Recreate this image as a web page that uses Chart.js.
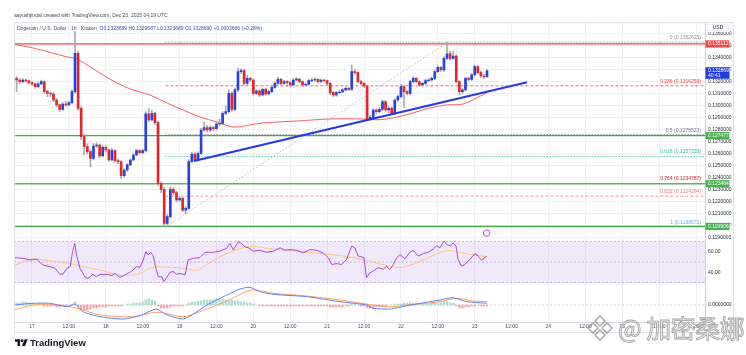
<!DOCTYPE html>
<html><head><meta charset="utf-8">
<script src="https://cdn.jsdelivr.net/npm/chart.js@4.4.1/dist/chart.umd.min.js"></script>
<style>
html,body{margin:0;padding:0;background:#fff;}
#wrap{position:relative;width:746px;height:355px;overflow:hidden;font-family:"Liberation Sans",Arial,sans-serif;background:#fff;}
canvas{position:absolute;left:0;}
.abs{position:absolute;white-space:nowrap;}
</style></head>
<body><div id="wrap">
<canvas id="main" width="746" height="239" style="top:0px"></canvas>
<canvas id="rsi" width="746" height="46" style="top:239px"></canvas>
<canvas id="macd" width="746" height="70" style="top:285px"></canvas>
<div class="abs" style="left:14px;top:22px;width:720px;height:311px;border:1px solid #dfe2e8;box-sizing:border-box;"></div>
<div class="abs" style="left:14px;top:12px;font-size:5px;color:#4a4a4a;">aayushjindal created with TradingView.com, Dec 23, 2025 04:19 UTC</div>
<div class="abs" style="left:17px;top:25px;font-size:5px;color:#4a4e5a;">Dogecoin / U.S. Dollar · 1h · Kraken&nbsp; <span style="color:#3b4ab8">O0.1323689 H0.1329687 L0.1323689 C0.1328690 +0.0003666 (+0.28%)</span></div>
<div class="abs" style="left:15px;top:337px;display:flex;align-items:center;">
<svg width="13" height="9" viewBox="0 0 36 24"><path d="M14 22H7V10H0V3h14v19z" fill="#131722"/><circle cx="19.5" cy="7" r="4" fill="#131722"/><path d="M27 3h8.5L27.5 22H19z" fill="#131722"/></svg>
<span style="font-weight:bold;font-size:9.5px;color:#131722;margin-left:2px;">TradingView</span></div>
<div class="abs" style="left:585px;top:313px;">
<svg width="30" height="30" viewBox="0 0 30 30"><g fill="none" stroke="rgba(150,150,150,0.75)" stroke-width="1.6"><path d="M15 3 L20 8 L15 13 L10 8 Z"/><path d="M15 17 L20 22 L15 27 L10 22 Z"/><path d="M3 15 L8 10 L13 15 L8 20 Z"/><path d="M17 15 L22 10 L27 15 L22 20 Z"/></g></svg></div>
<div class="abs" style="left:618px;top:309px;font-family:'Noto Sans CJK SC';font-size:25px;color:rgba(238,238,238,0.85);-webkit-text-stroke:0.8px rgba(140,140,140,0.8);letter-spacing:-0.5px;">@ 加密桑娜</div>
</div>
<script>
// ---- data (hours counted from 17 Dec 2025 00:00 UTC; first candle = 16 Dec 19:00) ----
const startHour = -5;
const opens = [
0.13225,0.13211,0.13197,0.13211,0.13203,0.13189,0.13178,0.13155,0.13178,0.13197,
0.13114,0.13100,0.13094,0.13044,0.13003,0.12966,0.13011,0.13003,0.13022,0.13114,
0.13433,0.12975,0.12739,0.12655,0.12614,0.12558,0.12661,0.12669,0.12578,0.12650,
0.12628,0.12544,0.12622,0.12539,0.12530,0.12414,0.12461,0.12503,0.12544,0.12586,
0.12622,0.12605,0.12622,0.12928,0.12878,0.12933,0.12855,0.12350,0.12300,0.12016,
0.12072,0.12300,0.12272,0.12211,0.12225,0.12127,0.12141,0.12530,0.12594,0.12544,
0.12600,0.12794,0.12814,0.12794,0.12814,0.12805,0.12844,0.12850,0.12933,0.12947,
0.13100,0.12966,0.13128,0.13280,0.13289,0.13183,0.13225,0.13211,0.13100,0.13119,
0.13086,0.13133,0.13094,0.13114,0.13150,0.13183,0.13216,0.13183,0.13197,0.13189,
0.13169,0.13211,0.13219,0.13197,0.13169,0.13175,0.13205,0.13211,0.13216,0.13197,
0.13211,0.13205,0.13183,0.13105,0.13086,0.13105,0.13111,0.13128,0.13141,0.13133,
0.13280,0.13272,0.13197,0.13183,0.13161,0.12883,0.12900,0.12961,0.12947,0.12966,
0.13030,0.12961,0.12975,0.12933,0.13044,0.13072,0.13155,0.13114,0.13100,0.13197,
0.13225,0.13197,0.13169,0.13183,0.13205,0.13211,0.13225,0.13280,0.13316,0.13294,
0.13391,0.13428,0.13391,0.13411,0.13197,0.13114,0.13128,0.13225,0.13216,0.13253,
0.13322,0.13272,0.13244,0.1323689];
const highs = [
0.13239,0.13225,0.13222,0.13219,0.13211,0.13200,0.13186,0.13189,0.13211,0.13203,
0.13125,0.13111,0.13105,0.13055,0.13011,0.13022,0.13030,0.13036,0.13128,0.13614,
0.13450,0.12989,0.12760,0.12680,0.12628,0.12683,0.12690,0.12678,0.12669,0.12664,
0.12636,0.12644,0.12628,0.12553,0.12539,0.12472,0.12514,0.12556,0.12597,0.12633,
0.12630,0.12633,0.12947,0.12975,0.12961,0.12944,0.12864,0.12364,0.12314,0.12089,
0.12322,0.12314,0.12283,0.12239,0.12236,0.12155,0.12547,0.12611,0.12606,0.12614,
0.12808,0.12861,0.12833,0.12828,0.12825,0.12858,0.12883,0.12947,0.12994,0.13128,
0.13111,0.13144,0.13311,0.13303,0.13297,0.13250,0.13236,0.13219,0.13133,0.13128,
0.13144,0.13141,0.13125,0.13161,0.13197,0.13236,0.13225,0.13208,0.13205,0.13197,
0.13222,0.13230,0.13225,0.13203,0.13186,0.13216,0.13222,0.13228,0.13222,0.13219,
0.13216,0.13211,0.13189,0.13114,0.13116,0.13122,0.13139,0.13153,0.13150,0.13336,
0.13297,0.13280,0.13208,0.13189,0.13169,0.12914,0.12972,0.12972,0.12980,0.13044,
0.13039,0.12989,0.12986,0.13055,0.13086,0.13175,0.13164,0.13125,0.13208,0.13239,
0.13233,0.13203,0.13194,0.13216,0.13222,0.13236,0.13294,0.13328,0.13322,0.13405,
0.13526,0.13450,0.13450,0.13422,0.13205,0.13139,0.13236,0.13233,0.13264,0.13336,
0.13330,0.13283,0.13258,0.1329687];
const lows = [
0.13114,0.13183,0.13189,0.13192,0.13178,0.13164,0.13141,0.13150,0.13169,0.13100,
0.13072,0.13072,0.13030,0.12989,0.12950,0.12958,0.12992,0.12994,0.13011,0.13100,
0.12958,0.12711,0.12586,0.12594,0.12489,0.12544,0.12644,0.12564,0.12569,0.12611,
0.12530,0.12536,0.12525,0.12514,0.12391,0.12403,0.12450,0.12494,0.12536,0.12578,
0.12594,0.12597,0.12611,0.12864,0.12869,0.12839,0.12333,0.12272,0.11986,0.12003,
0.12061,0.12255,0.12194,0.12197,0.12111,0.12094,0.12130,0.12519,0.12530,0.12536,
0.12589,0.12783,0.12778,0.12783,0.12789,0.12794,0.12833,0.12839,0.12922,0.12936,
0.12950,0.12955,0.13114,0.13264,0.13169,0.13172,0.13197,0.13086,0.13089,0.13072,
0.13078,0.13083,0.13086,0.13103,0.13141,0.13175,0.13169,0.13175,0.13158,0.13155,
0.13161,0.13203,0.13189,0.13158,0.13161,0.13169,0.13197,0.13203,0.13186,0.13189,
0.13194,0.13172,0.13089,0.13072,0.13075,0.13097,0.13103,0.13119,0.13122,0.13125,
0.13258,0.13186,0.13169,0.13147,0.12872,0.12872,0.12889,0.12933,0.12936,0.12955,
0.12950,0.12939,0.12922,0.12922,0.13033,0.13061,0.12980,0.13086,0.13089,0.13186,
0.13186,0.13158,0.13161,0.13175,0.13197,0.13203,0.13214,0.13269,0.13283,0.13283,
0.13380,0.13378,0.13383,0.13186,0.13086,0.13094,0.13117,0.13203,0.13208,0.13244,
0.13261,0.13233,0.13225,0.1323689];
const closes = [
0.13211,0.13197,0.13211,0.13203,0.13189,0.13178,0.13155,0.13178,0.13197,0.13114,
0.13100,0.13094,0.13044,0.13003,0.12966,0.13011,0.13003,0.13022,0.13114,0.13433,
0.12975,0.12739,0.12655,0.12614,0.12558,0.12661,0.12669,0.12578,0.12650,0.12628,
0.12544,0.12622,0.12539,0.12530,0.12414,0.12461,0.12503,0.12544,0.12586,0.12622,
0.12605,0.12622,0.12928,0.12878,0.12933,0.12855,0.12350,0.12300,0.12016,0.12072,
0.12300,0.12272,0.12211,0.12225,0.12127,0.12141,0.12530,0.12594,0.12544,0.12600,
0.12794,0.12814,0.12794,0.12814,0.12805,0.12844,0.12850,0.12933,0.12947,0.13100,
0.12966,0.13128,0.13280,0.13289,0.13183,0.13225,0.13211,0.13100,0.13119,0.13086,
0.13133,0.13094,0.13114,0.13150,0.13183,0.13216,0.13183,0.13197,0.13189,0.13169,
0.13211,0.13219,0.13197,0.13169,0.13175,0.13205,0.13211,0.13216,0.13197,0.13211,
0.13205,0.13183,0.13105,0.13086,0.13105,0.13111,0.13128,0.13141,0.13133,0.13280,
0.13272,0.13197,0.13183,0.13161,0.12883,0.12900,0.12961,0.12947,0.12966,0.13030,
0.12961,0.12975,0.12933,0.13044,0.13072,0.13155,0.13114,0.13100,0.13197,0.13225,
0.13197,0.13169,0.13183,0.13205,0.13211,0.13225,0.13280,0.13316,0.13294,0.13391,
0.13428,0.13391,0.13411,0.13197,0.13114,0.13128,0.13225,0.13216,0.13253,0.13322,
0.13272,0.13244,0.1323689,0.1328690];

const maHours  = [-5.85,0.3,11.4,14.6,22.1,27.6,32.8,38.4,43.9,49.1,54.6,60.2,65.4,70.9,75.1,86.2,96.9,107.6,113.2,118.7,123.9,129.4,135.0,140.2,146.8,148];
const maValues = [0.13508,0.13478,0.13403,0.13386,0.13269,0.13186,0.13128,0.13086,0.13019,0.12961,0.12903,0.12861,0.12819,0.12836,0.12853,0.12869,0.12886,0.12886,0.12880,0.12903,0.12936,0.12978,0.13003,0.13011,0.13090,0.13105];

const levelPrices = [0.1351127, 0.1274778, 0.1234641, 0.1199064];
const levelColors = ['#f04848', '#43a847', '#5cb860', '#43a847'];

const fibRatios = [0, 0.236, 0.5, 0.618, 0.764, 0.832, 1];
const fibPrices = [0.1352625, 0.1316259, 0.1275523, 0.1257335, 0.1234787, 0.1224294, 0.1198571];
const fibColors = ['#8e929b', '#f0474f', '#787b86', '#35c2a2', '#c62828', '#f07a80', '#6ab0f0'];
const fibStartHour = 43.4;
const fibSwingHours = [43.4, 135.3];
const fibSwingPrices = [0.1198571, 0.1352625];

const trendHours = [52.7, 161];
const trendPrices = [0.12536, 0.13192];

const priceTicks = [0.119,0.120,0.121,0.122,0.123,0.124,0.125,0.126,0.127,0.128,0.129,0.130,0.131,0.132,0.133,0.134,0.135,0.136];
const xTickHours  = [0,12,24,36,48,60,72,84,96,108,120,132,144,156,168,180,192,204,216];
const xTickLabels = ['17','12:00','18','12:00','19','12:00','20','12:00','21','12:00','22','12:00','23','12:00','24','12:00','25','12:00','26'];

const rsiHours = [-5.85,-2.9,-0.65,1.6,3.6,5.9,7.5,9.1,10.1,11.4,12.4,13.2,13.9,14.5,15.6,17.2,18.2,19.8,21.0,22.1,24.4,26.0,27.0,28.6,30.2,32.4,34.0,35.1,36.2,37.0,37.8,38.6,39.4,40.3,41.1,42.2,42.9,43.8,44.9,45.9,47.1,48.1,49.8,50.8,52.5,54.6,56.3,59.0,61.1,63.3,64.4,65.5,67.1,68.2,69.3,70.3,72.0,74.1,76.3,78.5,80.7,82.3,83.9,86.1,88.2,90.4,92.6,94.7,96.4,97.5,99.1,100.7,102.3,104.0,105.0,106.1,107.2,108.0,108.8,109.9,111.0,112.6,114.2,115.3,116.4,117.5,118.6,119.7,121.3,122.9,124.0,125.6,127.3,128.9,130.5,131.6,132.7,134.0,134.9,136.2,137.0,137.9,138.6,139.7,140.8,142.4,144.1,145.1,146.2,147.9];
const rsiValues = [54.2,53.6,52,52.6,47,45.5,43.9,38,38.5,44,45.5,60,68,56.8,43.9,35.7,34,38,35.7,38,38,37,39,35,37.5,41,45.5,44.8,52,60,56.8,59.4,56.2,44,35.7,35.7,31,35,40,40.7,38,39,37.5,52,53.6,54.2,59.4,59.4,60.6,63.2,68,61.6,69.6,68,64.5,64,60.4,61.4,59.4,60.4,63.8,61.4,62,61.4,58.8,62,61.4,58.8,54,47.5,48.5,47.5,52.4,65.4,63.8,55.7,55,54.2,34.7,39.5,41.2,44.5,42.8,46,42.8,47.5,54,57.2,53,59.4,61.4,55.7,58.2,59.4,62.6,65.8,63.8,70.3,67,65.4,68.6,65.4,52.4,46,47.5,52.4,58.2,55.7,51.8,55.7];
const rsiMaHours = [-5.85,0.3,3.6,11.4,16.6,22.1,27.6,30.9,35.1,39.3,43.9,49.1,53.7,56.9,61.1,65.4,70.9,78.4,89.4,100.2,105.7,110.9,118.7,122.0,127.2,135.0,139.2,148.0];
const rsiMaValues = [46.4,53,52,49,45.5,42.2,38,36.7,39,44.8,45,44,42.2,47.7,55,60.6,64.8,62.6,59.4,56.2,53.6,50,44.8,46,52,61,59,55];
const rsiBands = [70, 50, 30];

const macdHours = [-5.85,0.33,5.85,11.4,14.0,16.6,22.1,29.6,35.1,40.5,43.9,49.1,52.0,56.9,63.4,67.6,70.9,74.1,78.4,89.4,100.2,108.9,110.9,116.4,122.0,132.7,136.9,141.5,148.0];
const macdValues = [0,0.000034,0.000034,-0.000034,0.00002,-0.000134,-0.000234,-0.00028,-0.000214,-0.00008,-0.0002,-0.00028,-0.0002,0,0.0002,0.00032,0.000354,0.000266,0.000214,0.000166,0.000066,0,-0.000066,-0.00008,-0.000014,0.0001,0.000146,0.000066,0.000034];
const signalHours = [-5.85,0.33,5.85,11.4,16.6,22.1,32.8,40.7,49.1,54.6,63.4,70.2,73.2,78.4,89.4,100.2,110.9,117.1,122.0,132.7,138.2,143.4,148.0];
const signalValues = [-0.0001,0,0.000014,-0.00002,-0.0001,-0.0002,-0.000234,-0.000146,-0.000234,-0.000134,0.00008,0.00028,0.0003,0.000234,0.00018,0.0001,0,-0.000034,0,0.000066,0.000134,0.00008,0.000066];
const histValues = [
0.00004,0.00004,0.00006,0.00006,0.00004,0.00004,0.00002,0.00002,0,-0.00002,
-0.00002,-0.00002,-0.00002,-0.00004,-0.00004,-0.00002,-0.00002,0,0.00002,0.00006,
-0.00004,-0.00008,-0.0001,-0.0001,-0.00008,-0.00006,-0.00006,-0.00004,-0.00004,-0.00004,
-0.00002,-0.00002,-0.00002,-0.00002,-0.00002,0,0.00002,0.00002,0.00004,0.00004,
0.00004,0.00006,0.0001,0.00012,0.0001,0.00008,-0.00002,-0.00006,-0.00006,-0.00006,
-0.00004,-0.00002,-0.00002,-0.00002,-0.00002,0,0.00004,0.00006,0.00006,0.00008,
0.00008,0.0001,0.0001,0.0001,0.0001,0.00012,0.00012,0.00012,0.0001,0.0001,
0.0001,0.00008,0.00008,0.00006,0.00006,0.00004,0.00004,0.00002,0,-0.00002,
-0.00002,-0.00002,-0.00002,-0.00002,-0.00002,-0.00002,-0.00002,-0.00002,-0.00002,-0.00002,
-0.00002,-0.00002,-0.00002,-0.00002,-0.00002,-0.00002,-0.00002,-0.00002,-0.00002,-0.00002,
-0.00002,-0.00002,-0.00004,-0.00004,-0.00004,-0.00004,-0.00004,-0.00002,-0.00002,0.00002,
0.00002,0,-0.00002,-0.00002,-0.00006,-0.00006,-0.00006,-0.00004,-0.00004,-0.00004,
-0.00002,0,0,0.00002,0.00002,0.00002,0.00004,0.00004,0.00004,0.00004,
0.00004,0.00002,0.00002,0.00002,0.00002,0.00004,0.00004,0.00004,0.00004,0.00006,
0.00006,0.00004,0.00004,-0.00002,-0.00006,-0.00006,-0.00004,-0.00004,-0.00002,-0.00002,
0,-0.00002,-0.00002,-0.00002];

const eventHour = 147.9, eventPrice = 0.11935;

// ---- layout / style ----
const FONT = '"Liberation Sans", Arial, sans-serif';
const X_MIN = -5.85, X_MAX = 218.9;
const GRID = '#eef0f4';
const AXIS_BORDER = '#cdd0d6';
Chart.defaults.font.family = FONT;
Chart.defaults.animation = false;

const hours = closes.map((_, i) => startHour + i);
const bodyColors = closes.map((c, i) => c >= opens[i] ? '#2a3fe2' : '#e2262c');
const pts = (xs, ys) => xs.map((x, i) => ({x: x, y: ys[i]}));
const hline = (v, x0) => [{x: x0, y: v}, {x: X_MAX, y: v}];
const noPad = s => { s.paddingTop = 0; s.paddingBottom = 0; s.paddingLeft = 0; s.paddingRight = 0; };

function xScale(showLabels, height) {
  return {
    type: 'linear', min: X_MIN, max: X_MAX, offset: false,
    grid: {color: GRID, drawTicks: false, offset: false},
    border: {display: true, color: '#d9dce2'},
    ticks: {display: showLabels, autoSkip: false, maxRotation: 0, padding: 1.5,
            font: {size: 5, family: FONT}, color: '#4b4f5a',
            callback: v => { const k = xTickHours.indexOf(v); return k >= 0 ? xTickLabels[k] : ''; }},
    afterBuildTicks: s => { s.ticks = xTickHours.map(v => ({value: v})); },
    afterFit: s => { s.height = height; noPad(s); }
  };
}
function yScale(min, max, tickVals, fmt, showGrid) {
  return {
    type: 'linear', position: 'right', min: min, max: max,
    grid: {display: showGrid, color: GRID, drawTicks: false},
    border: {display: true, color: AXIS_BORDER},
    ticks: {padding: 3, font: {size: 5, family: FONT}, color: '#2a2e39', callback: fmt},
    afterBuildTicks: s => { s.ticks = tickVals.map(v => ({value: v})); },
    afterFit: s => { s.width = 41; noPad(s); }
  };
}
const commonPlugins = {legend: {display: false}, tooltip: {enabled: false}};

// ---- overlay plugin for main pane: fib labels, price-axis tags ----
const mainOverlay = {
  id: 'mainOverlay',
  afterDraw(chart) {
    const ctx = chart.ctx, ys = chart.scales.y;
    ctx.save();
    ctx.font = '5px ' + FONT;
    ctx.textAlign = 'right'; ctx.textBaseline = 'middle';
    fibRatios.forEach((r, i) => {
      ctx.fillStyle = fibColors[i];
      ctx.fillText(r + ' (' + fibPrices[i].toFixed(7) + ')', 701, ys.getPixelForValue(fibPrices[i]) - 4.5);
    });
    // USD
    ctx.fillStyle = '#fff'; ctx.fillRect(706, 24, 24, 8);
    ctx.strokeStyle = '#e0e3eb'; ctx.lineWidth = 0.5; ctx.strokeRect(707.5, 24.5, 21, 6.5);
    ctx.fillStyle = '#2a2e39'; ctx.textAlign = 'center';
    ctx.fillText('USD', 718, 28);
    // tags
    const tags = [
      {v: levelPrices[0], t: [levelPrices[0].toFixed(7)], bg: levelColors[0]},
      {v: closes[closes.length - 1], t: [closes[closes.length - 1].toFixed(7), '40:41'], bg: '#1f3ae0'},
      {v: levelPrices[1], t: [levelPrices[1].toFixed(7)], bg: '#4caf50'},
      {v: levelPrices[2], t: [levelPrices[2].toFixed(7)], bg: '#4caf50'},
      {v: levelPrices[3], t: [levelPrices[3].toFixed(7)], bg: '#4caf50'}
    ];
    ctx.textAlign = 'left';
    tags.forEach(tg => {
      const py = ys.getPixelForValue(tg.v);
      const top = py - 3.6, h = tg.t.length === 1 ? 7.2 : 11.5;
      ctx.fillStyle = tg.bg; ctx.fillRect(705.5, top, 24, h);
      ctx.fillStyle = '#fff';
      tg.t.forEach((s, k) => ctx.fillText(s, 708, py + k * 4.8));
    });
    ctx.restore();
  }
};

// ---- main price chart ----
const mainDatasets = [
  {type: 'bar', data: hours.map((h, i) => ({x: h, y: [lows[i], highs[i]]})), backgroundColor: '#a6aab5', barThickness: 1, grouped: false, order: 6},
  {type: 'bar', data: hours.map((h, i) => ({x: h, y: [opens[i], closes[i]]})), backgroundColor: bodyColors, barThickness: 2, grouped: false, order: 5},
  {type: 'line', data: pts(maHours, maValues), borderColor: '#f0626a', borderWidth: 1, pointRadius: 0, tension: 0.35, order: 7},
  {type: 'line', data: pts(trendHours, trendPrices), borderColor: '#2438e8', borderWidth: 2, pointRadius: 0, order: 2},
  {type: 'line', data: pts(fibSwingHours, fibSwingPrices), borderColor: '#a9acb4', borderWidth: 0.8, borderDash: [1.5, 2], pointRadius: 0, order: 3},
  {type: 'line', data: [{x: eventHour, y: eventPrice}], showLine: false, pointRadius: 3.3, pointBackgroundColor: '#f5ecfc', pointBorderColor: '#a560d8', pointBorderWidth: 1, order: 1}
];
fibPrices.forEach((p, i) => {
  mainDatasets.push({type: 'line', data: hline(p, fibStartHour), borderColor: fibColors[i], borderWidth: 0.8,
    borderDash: (i === 1 || i === 5) ? [3, 2] : [1.5, 1.5], pointRadius: 0, order: 10});
});
levelPrices.forEach((p, i) => {
  mainDatasets.push({type: 'line', data: hline(p, X_MIN), borderColor: levelColors[i], borderWidth: 1.3, pointRadius: 0, order: 9});
});

new Chart(document.getElementById('main'), {
  type: 'bar',
  data: {datasets: mainDatasets},
  options: {
    responsive: false, animation: false, devicePixelRatio: 1,
    layout: {autoPadding: false, padding: {top: 22.7, left: 14, right: 0, bottom: 0}},
    plugins: commonPlugins,
    scales: {
      x: xScale(false, 0),
      y: yScale(0.118858, 0.136883, priceTicks, v => v.toFixed(7), true)
    }
  },
  plugins: [mainOverlay]
});

// ---- RSI pane ----
new Chart(document.getElementById('rsi'), {
  type: 'line',
  data: {datasets: [
    {data: hline(rsiBands[0], X_MIN), borderColor: '#b9aec8', borderWidth: 0.8, borderDash: [2, 2], pointRadius: 0, fill: false, order: 5},
    {data: hline(rsiBands[2], X_MIN), borderColor: '#b9aec8', borderWidth: 0.8, borderDash: [2, 2], pointRadius: 0, fill: '-1', backgroundColor: 'rgba(149,76,233,0.13)', order: 5},
    {data: hline(rsiBands[1], X_MIN), borderColor: '#c4b9d2', borderWidth: 0.8, borderDash: [2, 2], pointRadius: 0, fill: false, order: 5},
    {data: pts(rsiMaHours, rsiMaValues), borderColor: '#fcc57c', borderWidth: 1, pointRadius: 0, tension: 0.4, fill: false, order: 2},
    {data: pts(rsiHours, rsiValues), borderColor: '#a64ec8', borderWidth: 1, pointRadius: 0, fill: false, order: 1}
  ]},
  options: {
    responsive: false, animation: false, devicePixelRatio: 1,
    layout: {autoPadding: false, padding: {top: 0, left: 14, right: 0, bottom: 0}},
    plugins: commonPlugins,
    scales: {
      x: xScale(false, 0),
      y: yScale(27.7, 72.3, [40, 60], v => v.toFixed(2), false)
    }
  }
});

// ---- MACD pane ----
new Chart(document.getElementById('macd'), {
  type: 'bar',
  data: {datasets: [
    {type: 'bar', data: hours.map((h, i) => ({x: h, y: histValues[i]})), backgroundColor: histValues.map(v => v >= 0 ? '#a9dcd1' : '#f5a3a6'), barThickness: 1.6, grouped: false, order: 5},
    {type: 'line', data: hline(0, X_MIN), borderColor: '#c9ccd3', borderWidth: 0.8, borderDash: [2, 2], pointRadius: 0, order: 6},
    {type: 'line', data: pts(signalHours, signalValues), borderColor: '#ffa064', borderWidth: 1, pointRadius: 0, tension: 0.3, order: 2},
    {type: 'line', data: pts(macdHours, macdValues), borderColor: '#5f80f2', borderWidth: 1, pointRadius: 0, tension: 0.2, order: 1}
  ]},
  options: {
    responsive: false, animation: false, devicePixelRatio: 1,
    layout: {autoPadding: false, padding: {top: 0, left: 14, right: 0, bottom: 0}},
    plugins: commonPlugins,
    scales: {
      x: xScale(true, 33),
      y: yScale(-0.00034, 0.0004, [0], v => v.toFixed(7), false)
    }
  }
});
</script>
</body></html>
